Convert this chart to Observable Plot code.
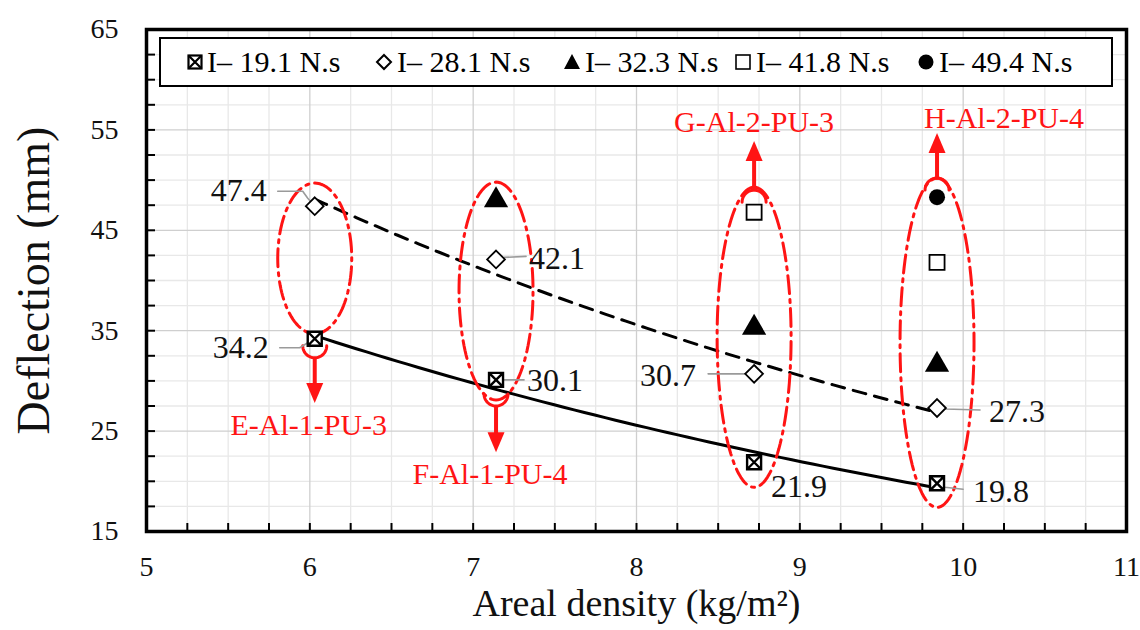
<!DOCTYPE html>
<html><head><meta charset="utf-8">
<script src="https://cdn.jsdelivr.net/npm/d3@7"></script>
<script src="https://cdn.jsdelivr.net/npm/@observablehq/plot@0.6"></script>
<style>
body{margin:0;background:#fff;}
#wrap{position:relative;width:1140px;height:630px;font-family:"Liberation Serif","Times New Roman",serif;}
#legend{position:absolute;left:159px;top:37px;width:950px;height:46px;border:2px solid #000;background:#fff;box-sizing:content-box;}
#legend .item{display:flex;align-items:center;font-size:30px;color:#000;white-space:nowrap;position:absolute;top:0;height:46px;}
#legend svg{margin-right:4px;}
</style></head>
<body><div id="wrap"><div id="chart"></div><div id="legend"></div></div>
<script>
// ---- data ----
const areal = [6.03, 7.14, 8.72, 9.84];               // kg/m2
const seriesNames = ["I\u2013 19.1 N.s", "I\u2013 28.1 N.s", "I\u2013 32.3 N.s", "I\u2013 41.8 N.s", "I\u2013 49.4 N.s"];
const defl191 = [34.2, 30.1, 21.9, 19.8];
const defl281 = [47.4, 42.1, 30.7, 27.3];
const defl323 = [null, 48.0, 35.3, 31.6];
const defl418 = [null, null, 46.8, 41.8];
const defl494 = [null, null, null, 48.3];
const specimens = ["E-Al-1-PU-3", "F-Al-1-PU-4", "G-Al-2-PU-3", "H-Al-2-PU-4"];
const xTicks = [5, 6, 7, 8, 9, 10, 11];
const yTicks = [15, 25, 35, 45, 55, 65];
// annotation ranges (deflection values enclosed by each red ellipse / arrow extents)
const ellLow = [34.7, 28.1, 19.4, 17.4];
const ellHigh = [49.7, 49.8, 49.3, 50.2];
const arrowFrom = [32.3, 27.5, 49.0, 50.2];
const arrowTo = [27.8, 22.9, 53.9, 54.7];

// ---- layout ----
const W = 1140, H = 630, ML = 146, MR = 14, MT = 29, MB = 99;
const kx = (11 - 5) / (W - ML - MR);   // data units per px
const ky = (65 - 15) / (H - MT - MB);

const allSeries = [defl191, defl281, defl323, defl418, defl494];
const pts = [];
allSeries.forEach((arr, s) => arr.forEach((v, i) => { if (v != null) pts.push({x: areal[i], y: v, s}); }));

// custom symbols
const boxX = {draw(c, size){const r = Math.sqrt(size/Math.PI); c.moveTo(-r,-r); c.lineTo(r,-r); c.lineTo(r,r); c.lineTo(-r,r); c.closePath(); c.moveTo(-r,-r); c.lineTo(r,r); c.moveTo(r,-r); c.lineTo(-r,r);}};
const headDown = {draw(c, size){const r = Math.sqrt(size/Math.PI); c.moveTo(0,0); c.lineTo(-r*0.85,-r*2); c.lineTo(r*0.85,-r*2); c.closePath();}};
const headUp = {draw(c, size){const r = Math.sqrt(size/Math.PI); c.moveTo(0,0); c.lineTo(-r*0.85,r*2); c.lineTo(r*0.85,r*2); c.closePath();}};

// exponential trend fit
function expFit(xs, ys){
  const n = xs.length, ly = ys.map(Math.log);
  const mx = d3.mean(xs), my = d3.mean(ly);
  let sxy = 0, sxx = 0;
  for (let i = 0; i < n; i++){ sxy += (xs[i]-mx)*(ly[i]-my); sxx += (xs[i]-mx)**2; }
  const b = sxy/sxx, a = my - b*mx;
  return d3.range(0, 61).map(k => { const x = xs[0] + (xs[n-1]-xs[0])*k/60; return {x, y: Math.exp(a + b*x)}; });
}
const trendSolid = expFit(areal, defl191);
const trendDash = expFit(areal, defl281);

// ellipses (dash-dot)
const ellPts = [];
areal.forEach((cx, i) => {
  const cy = (ellLow[i] + ellHigh[i]) / 2, ry = (ellHigh[i] - ellLow[i]) / 2, rx = 37 * kx;
  for (let k = 0; k <= 120; k++){ const t = k/120*2*Math.PI; ellPts.push({x: cx + rx*Math.sin(t), y: cy + ry*Math.cos(t), g: i}); }
});
// small arcs where arrows join
const arcPts = [];
areal.forEach((cx, i) => {
  const down = arrowTo[i] < arrowFrom[i];
  const r = 12;
  const cy = arrowFrom[i] + (down ? r*ky : -r*ky);
  for (let k = 0; k <= 30; k++){ const t = Math.PI * k / 30; arcPts.push({x: cx + r*kx*Math.cos(t), y: cy + (down ? -1 : 1) * r*ky*Math.sin(t), g: i}); }
});
const arrows = areal.map((x, i) => ({x, y1: arrowFrom[i], y2: arrowTo[i], down: arrowTo[i] < arrowFrom[i], name: specimens[i]}));

// data labels: [series, index, dx, dy, anchor, leader offsets]
const labelSpec = [
  [1, 0, -48, -15, "end",   [[-7,-8],[-12,-15],[-37,-15]]],
  [0, 0, -46,   9, "end",   [[-7,4],[-15,9],[-35,9]]],
  [1, 1,  33,  -1, "start", [[8,-2],[30,-3]]],
  [0, 1,  31,   1, "start", [[8,0],[28,0]]],
  [1, 2, -58,   2, "end",   [[-8,0],[-46,0]]],
  [0, 2,  17,  25, "start", null],
  [1, 3,  52,   4, "start", [[8,1],[43,2]]],
  [0, 3,  36,   8, "start", [[8,4],[26,6]]]
];
const labels = labelSpec.map(([s, i, dx, dy, anchor]) => ({x: areal[i], y: allSeries[s][i], text: allSeries[s][i].toFixed(1), dx, dy, anchor}));
const leaderPts = [];
labelSpec.forEach(([s, i, , , , lead], j) => {
  if (!lead) return;
  const x0 = areal[i], y0 = allSeries[s][i];
  [[0,0], ...lead].forEach(([ox, oy]) => leaderPts.push({x: x0 + ox*kx, y: y0 - oy*ky, g: j}));
});

const minorX = d3.range(5, 11.001, 0.25).filter(v => Math.abs(v - Math.round(v)) > 1e-6);
const minorY = d3.range(15, 65.001, 2.5).filter(v => !yTicks.includes(v));
const allX = d3.range(5.25, 11, 0.25);
const allY = d3.range(17.5, 65, 2.5);

const red = "#ff1414";
const textLabels = labels.map(d => Plot.text([d], {x: "x", y: "y", text: "text", dx: d.dx, dy: d.dy, textAnchor: d.anchor, lineAnchor: "middle", fontSize: 32, fill: "#111"}));

const chart = Plot.plot({
  width: W, height: H,
  marginLeft: ML, marginRight: MR, marginTop: MT, marginBottom: MB,
  style: {fontFamily: "'Liberation Serif','Times New Roman',serif", fontSize: "27px", background: "#fff", color: "#111", overflow: "visible"},
  x: {domain: [5, 11]},
  y: {domain: [15, 65]},
  marks: [
    Plot.ruleX(minorX, {stroke: "#e8e8e8", strokeWidth: 1.3}),
    Plot.ruleY(minorY, {stroke: "#e8e8e8", strokeWidth: 1.3}),
    Plot.ruleX(xTicks.slice(1, -1), {stroke: "#cfcfcf", strokeWidth: 1.3}),
    Plot.ruleY(yTicks.slice(1, -1), {stroke: "#cfcfcf", strokeWidth: 1.3}),
    Plot.ruleX(allX, {y1: 15, y2: 15 + 8*ky, stroke: "#000", strokeWidth: 2}),
    Plot.ruleY(allY, {x1: 5, x2: 5 + 9*kx, stroke: "#000", strokeWidth: 2}),
    Plot.axisX({ticks: xTicks, tickFormat: d => String(d), tickSize: 0, tickPadding: 25, label: null, fontSize: 28}),
    Plot.axisY({ticks: yTicks, tickFormat: d => String(d), tickSize: 0, tickPadding: 28, label: null, fontSize: 28}),
    // trend lines
    Plot.line(trendSolid, {x: "x", y: "y", stroke: "#000", strokeWidth: 3}),
    Plot.line(trendDash, {x: "x", y: "y", stroke: "#000", strokeWidth: 3, strokeDasharray: "13,9"}),
    // red annotations
    Plot.line(ellPts, {x: "x", y: "y", z: "g", stroke: red, strokeWidth: 3, strokeDasharray: "18,6,3,6"}),
    Plot.line(arcPts, {x: "x", y: "y", z: "g", stroke: red, strokeWidth: 3}),
    Plot.link(arrows, {x1: "x", x2: "x", y1: "y1", y2: d => d.y2 + (d.down ? 1 : -1) * 14 * ky, stroke: red, strokeWidth: 4}),
    Plot.dot(arrows.filter(d => d.down), {x: "x", y: "y2", symbol: headDown, r: 10, fill: red, stroke: "none"}),
    Plot.dot(arrows.filter(d => !d.down), {x: "x", y: "y2", symbol: headUp, r: 10, fill: red, stroke: "none"}),
    Plot.text(arrows.slice(0, 2), {x: "x", y: "y2", text: "name", dy: 22, dx: -6, fill: red, fontSize: 30, lineAnchor: "middle"}),
    Plot.text(arrows.slice(2, 3), {x: "x", y: "y2", text: "name", dy: -19, fill: red, fontSize: 30, lineAnchor: "middle"}),
    Plot.text(arrows.slice(3, 4), {x: "x", y: "y2", text: "name", dy: -15, dx: 67, fill: red, fontSize: 30, lineAnchor: "middle"}),
    // leaders
    Plot.line(leaderPts, {x: "x", y: "y", z: "g", stroke: "#9a9a9a", strokeWidth: 1.6}),
    // markers
    Plot.dot(pts.filter(d => d.s === 0), {x: "x", y: "y", symbol: boxX, r: 7, fill: "#fff", stroke: "#000", strokeWidth: 2.4}),
    Plot.dot(pts.filter(d => d.s === 1), {x: "x", y: "y", symbol: "diamond2", r: 8, fill: "#fff", stroke: "#000", strokeWidth: 1.8}),
    Plot.dot(pts.filter(d => d.s === 2), {x: "x", y: "y", symbol: "triangle", r: 9, fill: "#000", stroke: "none"}),
    Plot.dot(pts.filter(d => d.s === 3), {x: "x", y: "y", symbol: "square", r: 8.5, fill: "#fff", stroke: "#000", strokeWidth: 1.8}),
    Plot.dot(pts.filter(d => d.s === 4), {x: "x", y: "y", symbol: "circle", r: 8, fill: "#000", stroke: "none"}),
    ...textLabels,
    // axis titles
    Plot.text(["Areal density (kg/m\u00b2)"], {frameAnchor: "bottom", dy: 72, lineAnchor: "middle", fontSize: 38, fill: "#111"}),
    Plot.text(["Deflection (mm)"], {frameAnchor: "left", dx: -112, rotate: -90, textAnchor: "middle", lineAnchor: "middle", fontSize: 46, fill: "#111"}),
    Plot.frame({stroke: "#000", strokeWidth: 3.5})
  ]
});
document.getElementById("chart").appendChild(chart);

// legend
const legend = document.getElementById("legend");
const legendSym = [
  '<svg width="16" height="16" viewBox="-8 -8 16 16"><rect x="-6.5" y="-6.5" width="13" height="13" fill="#fff" stroke="#000" stroke-width="2.2"/><path d="M-6.5,-6.5L6.5,6.5M6.5,-6.5L-6.5,6.5" stroke="#000" stroke-width="2.2"/></svg>',
  '<svg width="18" height="18" viewBox="-9 -9 18 18"><path d="M0,-7L7,0L0,7L-7,0Z" fill="#fff" stroke="#000" stroke-width="2"/></svg>',
  '<svg width="18" height="18" viewBox="-9 -9 18 18"><path d="M0,-8L8,7L-8,7Z" fill="#000"/></svg>',
  '<svg width="18" height="18" viewBox="-9 -9 18 18"><rect x="-7" y="-7" width="14" height="14" fill="#fff" stroke="#000" stroke-width="1.6"/></svg>',
  '<svg width="18" height="18" viewBox="-9 -9 18 18"><circle r="7.5" fill="#000"/></svg>'
];
const legendLeft = [26, 214, 402, 573, 756];
seriesNames.forEach((name, i) => {
  const it = document.createElement("div");
  it.className = "item";
  it.style.left = legendLeft[i] + "px";
  it.innerHTML = legendSym[i] + '<span>' + name + '</span>';
  legend.appendChild(it);
});
</script>
</body></html>
